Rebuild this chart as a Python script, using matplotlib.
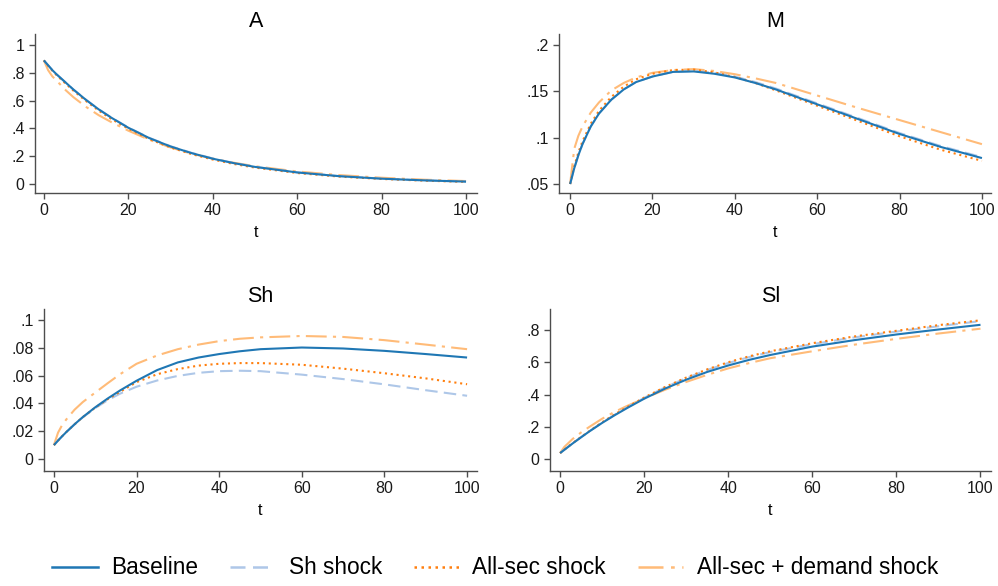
import matplotlib
matplotlib.use("Agg")
import matplotlib.pyplot as plt
from matplotlib.lines import Line2D

plt.rcParams["font.family"] = ["Liberation Sans", "DejaVu Sans"]

# time grid shared by every series
t = [0, 1, 2, 3, 5, 7, 10, 13, 16, 20, 25, 30, 35, 40, 45, 50, 60, 70, 80, 90, 100]

# --- A ---
a_base = [.89, .855, .82, .79, .735, .68, .605, .537, .477, .405, .33, .27, .222, .182, .15, .123, .083, .056, .038, .026, .017]
a_sh = [.89, .855, .821, .79, .735, .68, .606, .538, .478, .407, .332, .272, .224, .184, .151, .124, .084, .057, .039, .026, .017]
a_all = [.89, .852, .816, .784, .727, .672, .597, .528, .468, .398, .323, .263, .215, .176, .144, .118, .079, .053, .036, .024, .015]
a_dem = [.89, .82, .775, .745, .68, .625, .555, .495, .445, .384, .318, .263, .218, .183, .153, .128, .09, .064, .045, .031, .021]

# --- M ---
m_base = [.05, .067, .081, .093, .112, .126, .141, .152, .160, .166, .171, .1715, .169, .165, .159, .152, .136, .12, .104, .09, .078]
m_sh = [.05, .067, .081, .093, .112, .126, .141, .152, .160, .166, .171, .172, .170, .166, .160, .153, .137, .121, .105, .091, .079]
m_all = [.05, .069, .084, .096, .115, .129, .144, .155, .163, .169, .173, .1735, .1705, .1655, .159, .151, .1345, .118, .1015, .087, .075]
m_dem = [.05, .088, .102, .112, .127, .138, .151, .159, .165, .170, .173, .174, .172, .1685, .164, .159, .1455, .132, .119, .106, .093]

# --- Sh ---
sh_base = [.01, .0133, .0164, .0194, .025, .0302, .0372, .0435, .0493, .0563, .064, .0695, .073, .0755, .0775, .079, .0802, .0795, .0778, .0755, .073]
sh_sh = [.01, .0133, .0164, .0194, .0249, .030, .0366, .0423, .047, .052, .0565, .0598, .062, .0632, .0635, .0632, .0607, .0575, .0537, .0495, .0455]
sh_all = [.01, .0133, .0164, .0194, .025, .0302, .037, .043, .0483, .0553, .061, .0647, .0672, .0685, .069, .069, .0678, .065, .0617, .058, .0538]
sh_dem = [.01, .019, .0245, .0285, .0355, .041, .0478, .0545, .061, .0685, .0745, .079, .0823, .0848, .0865, .0875, .0885, .0878, .0855, .0823, .079]

# --- Sl ---
sl_base = [.037, .057, .077, .097, .135, .172, .224, .272, .317, .374, .437, .492, .54, .58, .615, .645, .697, .737, .772, .803, .832]
sl_sh = [.037, .058, .078, .098, .136, .173, .226, .275, .321, .379, .445, .502, .552, .595, .632, .663, .712, .754, .79, .823, .855]
sl_all = [.037, .058, .079, .099, .137, .174, .228, .277, .323, .381, .447, .505, .556, .60, .637, .668, .718, .76, .795, .83, .86]
sl_dem = [.037, .075, .10, .125, .165, .20, .25, .293, .33, .376, .43, .478, .522, .562, .595, .625, .668, .709, .745, .778, .808]

series_names = ["Baseline", "Sh shock", "All-sec shock", "All-sec + demand shock"]
panel_titles = ["A", "M", "Sh", "Sl"]
x_ticks = [0, 20, 40, 60, 80, 100]

a_yticks = [0, .2, .4, .6, .8, 1]
a_ylabels = ["0", ".2", ".4", ".6", ".8", "1"]
m_yticks = [.05, .1, .15, .2]
m_ylabels = [".05", ".1", ".15", ".2"]
sh_yticks = [0, .02, .04, .06, .08, .1]
sh_ylabels = ["0", ".02", ".04", ".06", ".08", ".1"]
sl_yticks = [0, .2, .4, .6, .8]
sl_ylabels = ["0", ".2", ".4", ".6", ".8"]

colors = ["#1f77b4", "#aec7e8", "#ff7f0e", "#ffbb78"]
dashes = [None, (6, 3), (1, 1.8), (10, 3, 1.5, 3)]

W, H = 998, 586
fig = plt.figure(figsize=(W / 100, H / 100), dpi=100)


def add_panel(left, right, top, bottom):
    return fig.add_axes([left / W, 1 - bottom / H, (right - left) / W, (bottom - top) / H])


panels = [
    (add_panel(35, 477, 34, 193), [a_base, a_sh, a_all, a_dem], (-2.1, 102.6), (-0.065, 1.08), a_yticks, a_ylabels),
    (add_panel(559, 991, 34, 193), [m_base, m_sh, m_all, m_dem], (-2.7, 102.2), (0.0403, 0.2119), m_yticks, m_ylabels),
    (add_panel(44, 477, 309, 471), [sh_base, sh_sh, sh_all, sh_dem], (-2.4, 102.4), (-0.0086, 0.1079), sh_yticks, sh_ylabels),
    (add_panel(550, 991, 309, 471), [sl_base, sl_sh, sl_all, sl_dem], (-2.4, 102.5), (-0.074, 0.93), sl_yticks, sl_ylabels),
]

for (ax, ys, xlim, ylim, yt, yl), title in zip(panels, panel_titles):
    # draw back to front so the baseline sits on top of the Sh shock line
    for k in [3, 1, 2, 0]:
        ln, = ax.plot(t, ys[k], color=colors[k], lw=1.5, solid_capstyle="butt")
        if dashes[k] is not None:
            ln.set_dashes(dashes[k])
    ax.set_xlim(*xlim)
    ax.set_ylim(*ylim)
    ax.set_xticks(x_ticks)
    ax.set_xticklabels([str(v) for v in x_ticks])
    ax.set_yticks(yt)
    ax.set_yticklabels(yl)
    ax.set_title(title, fontsize=15.5, pad=5)
    ax.set_xlabel("t", fontsize=11.5, labelpad=5)
    for s in ("top", "right"):
        ax.spines[s].set_visible(False)
    for s in ("left", "bottom"):
        ax.spines[s].set_color("#4d4d4d")
        ax.spines[s].set_linewidth(1.0)
    ax.tick_params(direction="out", length=4.5, width=1.0, color="#4d4d4d",
                   labelsize=11.5, labelcolor="#1a1a1a", pad=3)
    ax.set_facecolor("white")

handles = []
for k in range(4):
    h = Line2D([], [], color=colors[k], lw=1.8)
    if dashes[k] is not None:
        h.set_dashes(dashes[k])
    handles.append(h)

fig.legend(handles, series_names, loc="center", bbox_to_anchor=(0.496, 1 - 568 / H),
           ncol=4, frameon=False, fontsize=16.3, handlelength=2.0, handletextpad=0.6,
           columnspacing=1.4)

fig.savefig("out.png", dpi=100, facecolor="white")
